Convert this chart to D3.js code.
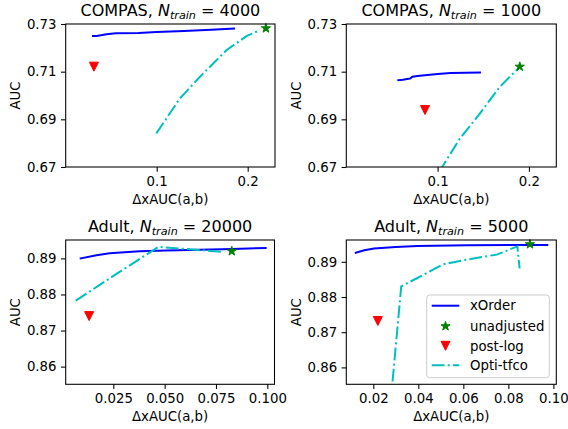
<!DOCTYPE html>
<html>
<head>
<meta charset="utf-8">
<script src="https://cdn.jsdelivr.net/npm/d3@7"></script>
<style>
  html, body { margin: 0; padding: 0; background: #fff; }
  svg { display: block; font-family: "DejaVu Sans", sans-serif; }
</style>
</head>
<body>
<svg id="chart" width="568" height="429"></svg>
<script>
// ---------------- data ----------------
const datasets = ["COMPAS", "COMPAS", "Adult", "Adult"];
const nTrain = ["4000", "1000", "20000", "5000"];
const seriesNames = ["xOrder", "unadjusted", "post-log", "Opti-tfco"];
const xLabel = "\u0394xAUC(a,b)";
const yLabel = "AUC";

const xTicks1 = [0.1, 0.2], xTicks2 = [0.1, 0.2];
const xTicks3 = [0.025, 0.050, 0.075, 0.100];
const xTicks4 = [0.02, 0.04, 0.06, 0.08, 0.10];
const yTicks1 = [0.67, 0.69, 0.71, 0.73], yTicks2 = [0.67, 0.69, 0.71, 0.73];
const yTicks3 = [0.86, 0.87, 0.88, 0.89];
const yTicks4 = [0.86, 0.87, 0.88, 0.89];
const xTickFmt = [".1f", ".1f", ".3f", ".2f"];

const xDomains = [[0, 0.23], [0, 0.23], [0.0018, 0.1035], [0.008, 0.1013]];
const yDomains = [[0.67, 0.73], [0.67, 0.73], [0.8551, 0.8951], [0.8552, 0.8962]];

// COMPAS, N=4000
const xorder1 = [[0.030,0.7250],[0.034,0.7250],[0.045,0.7257],[0.055,0.7261],[0.080,0.7262],[0.100,0.7266],[0.130,0.7271],[0.160,0.7276],[0.185,0.7281]];
const opti1 = [[0.0996,0.6841],[0.110,0.6900],[0.1256,0.6988],[0.1476,0.7079],[0.1769,0.7191],[0.199,0.7250],[0.2117,0.7271]];
const unadj1 = [0.220, 0.7282];
const postlog1 = [0.031, 0.7121];

// COMPAS, N=1000
const xorder2 = [[0.057,0.7064],[0.062,0.7066],[0.065,0.7068],[0.070,0.7071],[0.0723,0.7079],[0.0778,0.7082],[0.100,0.7090],[0.1143,0.7094],[0.1464,0.7096]];
const opti2 = [[0.1015,0.6680],[0.105,0.6700],[0.1245,0.6820],[0.1464,0.6925],[0.1683,0.7037],[0.1884,0.7114],[0.190,0.7121]];
const unadj2 = [0.190, 0.7121];
const postlog2 = [0.0862, 0.6939];

// Adult, N=20000
const xorder3 = [[0.0091,0.8900],[0.0168,0.8909],[0.0232,0.8914],[0.0378,0.8920],[0.0507,0.8922],[0.083,0.8926],[0.0992,0.8929]];
const opti3 = [[0.0067,0.8783],[0.0265,0.8857],[0.047,0.8932],[0.0604,0.8926],[0.0780,0.8918]];
const unadj3 = [0.0827, 0.8920];
const postlog3 = [0.0132, 0.8740];

// Adult, N=5000
const xorder4 = [[0.0122,0.8926],[0.0160,0.8933],[0.0203,0.8938],[0.0300,0.8942],[0.0396,0.8945],[0.0618,0.8947],[0.0973,0.8948]];
const opti4 = [[0.0277,0.8500],[0.0284,0.8550],[0.0324,0.8830],[0.051,0.8893],[0.0603,0.8905],[0.0751,0.8921],[0.0840,0.8944],[0.0850,0.8881]];
const unadj4 = [0.0896, 0.8950];
const postlog4 = [0.0220, 0.8732];

const xorders = [xorder1, xorder2, xorder3, xorder4];
const optis = [opti1, opti2, opti3, opti4];
const unadjs = [unadj1, unadj2, unadj3, unadj4];
const postlogs = [postlog1, postlog2, postlog3, postlog4];
const xTicksAll = [xTicks1, xTicks2, xTicks3, xTicks4];
const yTicksAll = [yTicks1, yTicks2, yTicks3, yTicks4];

// ---------------- layout / style ----------------
const panels = [
  {l: 65.7, r: 275, t: 24, b: 167},
  {l: 346.3, r: 556.3, t: 24, b: 167},
  {l: 65.7, r: 274.5, t: 240, b: 384.3},
  {l: 346.3, r: 556.3, t: 240, b: 384.3}
];
const C = {xorder: "#0000ff", unadj: "#008000", postlog: "#ff0000", opti: "#00bfbf"};
const FS = 13.3, TFS = 16;
const dashDot = "12.8,3.2,2,3.2";

const svg = d3.select("#chart");

function starPath(cx, cy) {
  return d3.symbol().type(d3.symbolStar).size(26)();
}
const triPath = "M-4.5,-4.5L4.5,-4.5L0,4.5Z";

panels.forEach((p, i) => {
  const x = d3.scaleLinear().domain(xDomains[i]).range([p.l, p.r]);
  const y = d3.scaleLinear().domain(yDomains[i]).range([p.b, p.t]);
  const g = svg.append("g");

  const clipId = "clip" + i;
  svg.append("clipPath").attr("id", clipId)
    .append("rect").attr("x", p.l).attr("y", p.t)
    .attr("width", p.r - p.l).attr("height", p.b - p.t);

  // axes
  const xAxis = d3.axisBottom(x).tickValues(xTicksAll[i])
    .tickFormat(d3.format(xTickFmt[i])).tickSize(4.7).tickPadding(4.5);
  const yAxis = d3.axisLeft(y).tickValues(yTicksAll[i])
    .tickFormat(d3.format(".2f")).tickSize(4.7).tickPadding(4.5);

  const gx = g.append("g").attr("transform", `translate(0,${p.b})`).call(xAxis);
  const gy = g.append("g").attr("transform", `translate(${p.l},0)`).call(yAxis);
  [gx, gy].forEach(a => {
    a.select(".domain").remove();
    a.selectAll("line").attr("stroke", "#000").attr("stroke-width", 1.07);
    a.selectAll("text").attr("font-size", FS).attr("fill", "#000")
      .attr("font-family", "DejaVu Sans");
  });

  // lines
  const line = d3.line().x(d => x(d[0])).y(d => y(d[1]));
  const lg = g.append("g").attr("clip-path", `url(#${clipId})`);
  lg.append("path").datum(xorders[i]).attr("d", line)
    .attr("fill", "none").attr("stroke", C.xorder).attr("stroke-width", 2)
    .attr("stroke-linecap", "square").attr("stroke-linejoin", "round");
  lg.append("path").datum(optis[i]).attr("d", line)
    .attr("fill", "none").attr("stroke", C.opti).attr("stroke-width", 2)
    .attr("stroke-dasharray", dashDot).attr("stroke-linejoin", "round");

  // markers
  g.append("path").attr("d", starPath())
    .attr("transform", `translate(${x(unadjs[i][0])},${y(unadjs[i][1])})`)
    .attr("fill", C.unadj).attr("stroke", C.unadj).attr("stroke-width", 1);
  g.append("path").attr("d", triPath)
    .attr("transform", `translate(${x(postlogs[i][0])},${y(postlogs[i][1])})`)
    .attr("fill", C.postlog).attr("stroke", C.postlog).attr("stroke-width", 1);

  // frame
  g.append("rect").attr("x", p.l).attr("y", p.t)
    .attr("width", p.r - p.l).attr("height", p.b - p.t)
    .attr("fill", "none").attr("stroke", "#000").attr("stroke-width", 1.07);

  // title
  const cx = (p.l + p.r) / 2;
  const title = g.append("text").attr("x", cx).attr("y", p.t - 8)
    .attr("text-anchor", "middle").attr("font-size", TFS).attr("fill", "#000");
  title.append("tspan").text(datasets[i] + ", ");
  title.append("tspan").attr("font-style", "italic").text("N");
  title.append("tspan").attr("font-style", "italic").attr("font-size", 11.2)
    .attr("dy", 3.2).text("train");
  title.append("tspan").attr("dy", -3.2).text(" = " + nTrain[i]);

  // axis labels
  g.append("text").attr("x", cx).attr("y", p.b + 37)
    .attr("text-anchor", "middle").attr("font-size", FS).attr("fill", "#000")
    .text(xLabel);
  g.append("text")
    .attr("transform", `translate(${p.l - 45.5},${(p.t + p.b) / 2}) rotate(-90)`)
    .attr("text-anchor", "middle").attr("font-size", FS).attr("fill", "#000")
    .text(yLabel);

  // legend in last panel
  if (i === 3) {
    const L = {x: 426.7, y: 295, w: 122.6, h: 82.7};
    const lgd = g.append("g");
    lgd.append("rect").attr("x", L.x).attr("y", L.y).attr("width", L.w).attr("height", L.h)
      .attr("rx", 3).attr("fill", "#fff").attr("fill-opacity", 0.8)
      .attr("stroke", "#cccccc").attr("stroke-width", 1);
    const rows = [305.7, 326.2, 345.8, 365.2];
    const hx0 = 431.7, hx1 = 459.3, hxm = (hx0 + hx1) / 2, tx = 470;
    lgd.append("line").attr("x1", hx0).attr("x2", hx1).attr("y1", rows[0]).attr("y2", rows[0])
      .attr("stroke", C.xorder).attr("stroke-width", 2);
    lgd.append("path").attr("d", starPath())
      .attr("transform", `translate(${hxm},${rows[1]})`)
      .attr("fill", C.unadj).attr("stroke", C.unadj).attr("stroke-width", 1);
    lgd.append("path").attr("d", triPath)
      .attr("transform", `translate(${hxm},${rows[2]})`)
      .attr("fill", C.postlog).attr("stroke", C.postlog).attr("stroke-width", 1);
    lgd.append("line").attr("x1", hx0).attr("x2", hx1).attr("y1", rows[3]).attr("y2", rows[3])
      .attr("stroke", C.opti).attr("stroke-width", 2).attr("stroke-dasharray", dashDot);
    seriesNames.forEach((s, k) => {
      lgd.append("text").attr("x", tx).attr("y", rows[k] + 4.7)
        .attr("font-size", FS).attr("fill", "#000").text(s);
    });
  }
});
</script>
</body>
</html>
